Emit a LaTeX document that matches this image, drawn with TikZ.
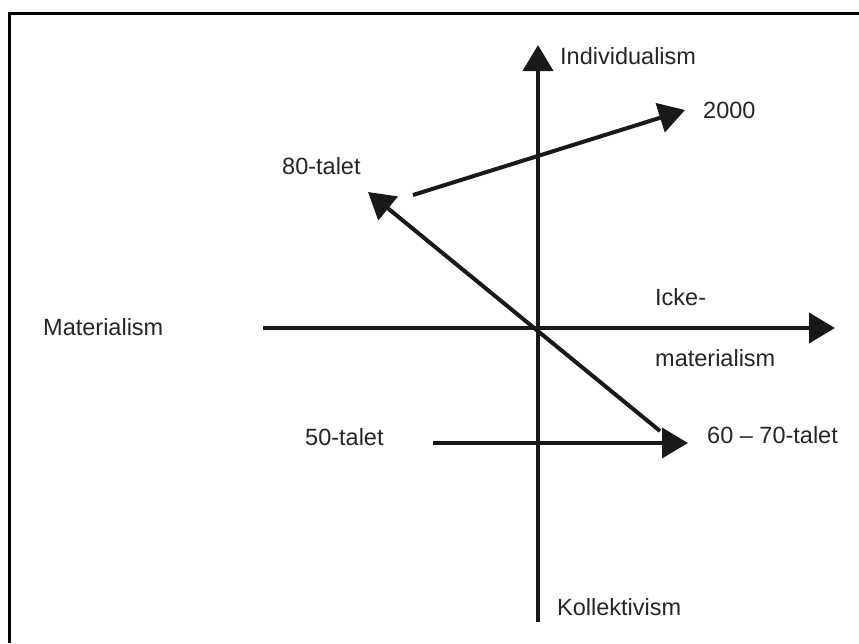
\documentclass[tikz,border=0pt]{standalone}
\usepackage{fontspec}
\setmainfont{Liberation Sans}
\usetikzlibrary{arrows.meta}
\begin{document}
\begin{tikzpicture}[x=1pt,y=-1pt,
  axis/.style={line width=4pt,draw=black!90,-{Triangle[length=26pt,width=30pt]}},
  plain/.style={line width=4pt,draw=black!90},
  lbl/.style={inner sep=0pt,anchor=base west,text=black!85,font=\fontsize{23.5}{28}\selectfont},
  frameline/.style={line width=3pt,draw=black}]
\useasboundingbox (0,0) rectangle (859,643);
\fill[white] (0,0) rectangle (859,643);
% frame
\coordinate (fTR) at (859,13);
\coordinate (fTL) at (9,13);
\coordinate (fBL) at (9,643);
\draw[frameline] (fTR) -- (fTL) -- (fBL);
% axes
\coordinate (vB) at (538,622);
\coordinate (vT) at (538,45);
\coordinate (hL) at (263,328);
\coordinate (hR) at (835,328);
\draw[axis] (vB) -- (vT);
\draw[axis] (hL) -- (hR);
% arrows
\coordinate (a50) at (433,443);
\coordinate (a60) at (688,443);
\draw[axis] (a50) -- (a60);
\coordinate (d1) at (660,431);
\coordinate (d2) at (368,192);
\draw[axis] (d1) -- (d2);
\coordinate (e1) at (413,195);
\coordinate (e2) at (685,110);
\draw[axis] (e1) -- (e2);
% labels
\node[lbl] (ind) at (560,64) {Individualism};
\node[lbl] (y2000) at (703,118) {2000};
\node[lbl] (t80) at (282,174) {80-talet};
\node[lbl] (mat) at (43,335) {Materialism};
\node[lbl] (icke) at (655,305) {Icke-};
\node[lbl] (imat) at (655,366) {materialism};
\node[lbl] (t50) at (305,445) {50-talet};
\node[lbl] (t60) at (707,443) {60 – 70-talet};
\node[lbl] (kol) at (557,615) {Kollektivism};
\end{tikzpicture}
\end{document}
